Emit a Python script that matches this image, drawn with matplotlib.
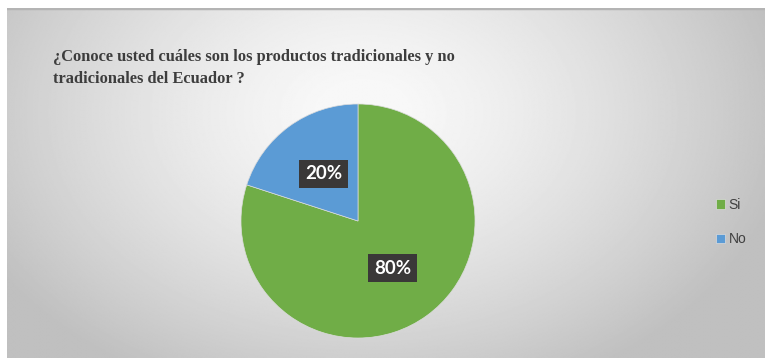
import numpy as np
import matplotlib
matplotlib.use("Agg")
import matplotlib.pyplot as plt

# respuestas de la encuesta
respuestas = ["Si", "No"]
porcentajes = [80, 20]
colores = ["#70AD47", "#5B9BD5"]
titulo = ["¿Conoce usted cuáles son los productos tradicionales y no",
          "tradicionales del Ecuador ?"]

W, H = 765, 358
fig = plt.figure(figsize=(W / 100, H / 100), dpi=100)
fig.patch.set_facecolor("white")

# fondo gris con degradado radial, mas claro arriba al centro
bg = fig.add_axes([7 / W, 0, 1 - 7 / W, (H - 8) / H])
yy, xx = np.mgrid[0:1:300j, 0:1:600j]
d = np.sqrt(((xx - 0.47) / 0.72) ** 2 + ((yy - 0.3) / 1.1) ** 2)
val = np.clip(0.98 - 0.32 * d ** 1.4, 0.75, 0.97)
bg.imshow(val, cmap="gray", vmin=0, vmax=1, aspect="auto", extent=[0, 1, 0, 1],
          interpolation="bilinear")
bg.axhline(1, color="#b4b4b4", lw=2.5)
bg.set_xlim(0, 1)
bg.set_ylim(0, 1)
bg.set_axis_off()

# titulo en dos lineas
for i, linea in enumerate(titulo):
    fig.text(53 / W, 1 - (61 + 22 * i) / H, linea, fontsize=11.8,
             fontweight="bold", family="Liberation Serif", color="#3d3d3d",
             va="baseline", ha="left")

R = 117
ax = fig.add_axes([(358 - R) / W, 1 - (221 + R) / H, 2 * R / W, 2 * R / H])
wedges, textos, autotextos = ax.pie(
    porcentajes, colors=colores, startangle=90, counterclock=False,
    autopct="%1.0f%%", pctdistance=0.5,
    wedgeprops=dict(linewidth=0.5, edgecolor="#dcdcdc"))
for t in autotextos:
    t.set_color("white")
    t.set_fontsize(13.5)
    t.set_fontweight("bold")
    t.set_family("Lato")
    t.set_bbox(dict(boxstyle="square,pad=0.3", facecolor="#3a3838",
                    edgecolor="none"))
ax.set_xlim(-1, 1)
ax.set_ylim(-1, 1)
ax.set_aspect("equal")
ax.set_axis_off()

leg = fig.legend(wedges, respuestas, loc="center left",
                 bbox_to_anchor=(703 / W, 1 - 222 / H), frameon=False,
                 prop=dict(family="Liberation Sans", size=10),
                 handlelength=0.7, handleheight=0.7, handletextpad=0.25,
                 labelspacing=1.5, labelcolor="#404040")

fig.savefig("out.png", dpi=100)
